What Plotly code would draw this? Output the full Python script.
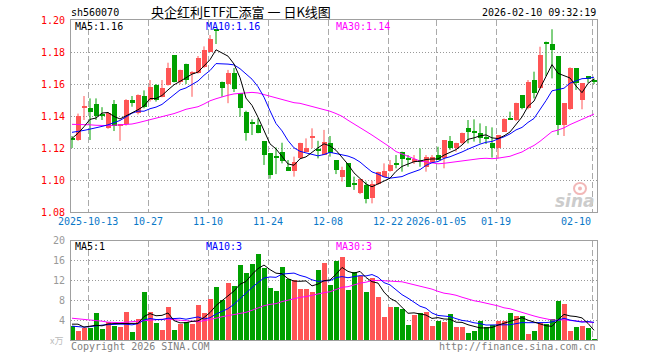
import plotly.graph_objects as go

# ---------------- data ----------------
opens = [1.1256, 1.1250, 1.1455, 1.1450, 1.1475, 1.1413, 1.1327, 1.1475, 1.1340, 1.1348,
         1.1500, 1.1417, 1.1525, 1.1500, 1.1594, 1.1520, 1.1594, 1.1780, 1.1615, 1.1727,
         1.1660, 1.1667, 1.1708, 1.1802, 1.1940, 1.1615, 1.1600, 1.1667, 1.1542, 1.1427,
         1.1352, 1.1344, 1.1244, 1.1167, 1.1140, 1.1177, 1.1083, 1.1058, 1.1135, 1.1177,
         1.1260, 1.1190, 1.1156, 1.1233, 1.1125, 1.1017, 1.1104, 1.0975, 1.0917, 1.0969,
         1.0885, 1.0975, 1.1021, 1.1056, 1.1096, 1.1177, 1.1127, 1.1115, 1.1117, 1.1083,
         1.1115, 1.1156, 1.1135, 1.1246, 1.1198, 1.1229, 1.1323, 1.1298, 1.1292, 1.1262,
         1.1229, 1.1198, 1.1302, 1.1383, 1.1375, 1.1531, 1.1448, 1.1625, 1.1573, 1.1863,
         1.1850, 1.1775, 1.1344, 1.1442, 1.1698, 1.1500, 1.1650, 1.1625]
highs = [1.1275, 1.1415, 1.1525, 1.1510, 1.1510, 1.1455, 1.1425, 1.1500, 1.1350, 1.1505,
         1.1525, 1.1535, 1.1560, 1.1625, 1.1600, 1.1625, 1.1733, 1.1780, 1.1690, 1.1727,
         1.1680, 1.1775, 1.1835, 1.1906, 1.1942, 1.1615, 1.1688, 1.1700, 1.1542, 1.1433,
         1.1379, 1.1385, 1.1244, 1.1167, 1.1204, 1.1233, 1.1125, 1.1146, 1.1233, 1.1260,
         1.1323, 1.1245, 1.1313, 1.1275, 1.1125, 1.1083, 1.1104, 1.1021, 1.1004, 1.0990,
         1.0996, 1.1052, 1.1104, 1.1125, 1.1156, 1.1177, 1.1156, 1.1156, 1.1198, 1.1156,
         1.1156, 1.1208, 1.1250, 1.1275, 1.1233, 1.1296, 1.1375, 1.1379, 1.1354, 1.1337,
         1.1329, 1.1281, 1.1385, 1.1427, 1.1483, 1.1531, 1.1625, 1.1677, 1.1833, 1.1865,
         1.1942, 1.1775, 1.1479, 1.1704, 1.1698, 1.1604, 1.1650, 1.1635]
lows = [1.1200, 1.1245, 1.1375, 1.1250, 1.1375, 1.1375, 1.1320, 1.1306, 1.1245, 1.1340,
        1.1458, 1.1410, 1.1448, 1.1490, 1.1490, 1.1517, 1.1590, 1.1610, 1.1600, 1.1600,
        1.1520, 1.1665, 1.1700, 1.1800, 1.1850, 1.1520, 1.1480, 1.1550, 1.1396, 1.1246,
        1.1281, 1.1292, 1.1094, 1.1008, 1.1037, 1.1104, 1.1056, 1.1021, 1.1131, 1.1177,
        1.1198, 1.1135, 1.1156, 1.1146, 1.1037, 1.0990, 1.0958, 1.0938, 1.0912, 1.0854,
        1.0854, 1.0969, 1.1021, 1.1052, 1.1073, 1.1052, 1.1083, 1.1100, 1.1083, 1.1052,
        1.1108, 1.1125, 1.1073, 1.1188, 1.1177, 1.1225, 1.1229, 1.1240, 1.1229, 1.1225,
        1.1140, 1.1135, 1.1302, 1.1375, 1.1369, 1.1442, 1.1442, 1.1510, 1.1567, 1.1650,
        1.1635, 1.1281, 1.1275, 1.1438, 1.1563, 1.1442, 1.1608, 1.1600]
closes = [1.1250, 1.1400, 1.1460, 1.1427, 1.1400, 1.1405, 1.1417, 1.1338, 1.1348, 1.1500,
          1.1480, 1.1530, 1.1454, 1.1583, 1.1500, 1.1575, 1.1702, 1.1615, 1.1690, 1.1625,
          1.1677, 1.1765, 1.1813, 1.1879, 1.1935, 1.1577, 1.1667, 1.1567, 1.1452, 1.1296,
          1.1350, 1.1296, 1.1156, 1.1031, 1.1138, 1.1119, 1.1058, 1.1115, 1.1233, 1.1198,
          1.1275, 1.1185, 1.1240, 1.1167, 1.1062, 1.1062, 1.0958, 1.0973, 1.1004, 1.0879,
          1.0975, 1.1052, 1.1056, 1.1094, 1.1094, 1.1129, 1.1125, 1.1129, 1.1115, 1.1142,
          1.1146, 1.1125, 1.1250, 1.1198, 1.1229, 1.1292, 1.1302, 1.1296, 1.1260, 1.1260,
          1.1198, 1.1281, 1.1381, 1.1381, 1.1479, 1.1448, 1.1615, 1.1542, 1.1781, 1.1854,
          1.1813, 1.1344, 1.1479, 1.1698, 1.1604, 1.1604, 1.1633, 1.1615]
volumes = [2.8, 1.8, 2.4, 2.5, 5.4, 2.2, 3.7, 2.8, 2.6, 5.6,
           1.6, 4.2, 9.7, 5.6, 3.4, 2.0, 6.6, 2.0, 3.3, 3.6,
           3.3, 7.1, 5.4, 8.3, 10.7, 8.1, 11.5, 10.9, 15.1, 13.5,
           15.3, 17.3, 14.5, 10.5, 9.9, 14.7, 12.3, 12.1, 10.3, 10.3,
           9.7, 14.1, 15.5, 11.1, 15.9, 16.7, 10.1, 13.7, 12.9, 9.7,
           12.5, 8.7, 4.6, 6.6, 6.6, 6.2, 3.0, 5.0, 5.4, 5.6,
           2.8, 3.8, 3.6, 5.2, 2.6, 2.6, 1.4, 1.8, 3.8, 2.6,
           3.0, 3.8, 3.8, 5.4, 4.8, 4.8, 1.2, 1.8, 3.4, 3.2,
           4.2, 7.9, 7.2, 1.8, 2.6, 2.8, 2.4, 0.2]

# moving-average values shown before the window is filled (history off-screen)
ma5_head = [1.1260, 1.1292, 1.1333, 1.1379]
ma10_head = [1.1298, 1.1302, 1.1310, 1.1318, 1.1325, 1.1335, 1.1345, 1.1358, 1.1372]
ma30_head = [1.1348, 1.1348, 1.1347, 1.1345, 1.1342, 1.1340, 1.1340, 1.1342, 1.1344, 1.1347,
             1.1350, 1.1358, 1.1367, 1.1375, 1.1385, 1.1393, 1.1402, 1.1415, 1.1428, 1.1442,
             1.1450, 1.1458, 1.1475, 1.1495, 1.1508, 1.1520, 1.1530, 1.1538, 1.1542]
vma5_head = [3.2, 3.2, 2.6, 2.8]
vma10_head = [2.8, 2.7, 2.6, 2.7, 2.9, 3.0, 3.1, 3.2, 3.2]
vma30_head = [4.4, 4.3, 4.2, 4.1, 4.0, 3.8, 3.6, 3.5, 3.5, 3.6,
              3.7, 3.9, 4.0, 4.1, 4.2, 4.2, 4.2, 4.1, 4.0, 3.8,
              3.7, 3.7, 3.9, 4.1, 4.4, 4.7, 4.9, 5.2, 5.4]

tick_idx = [3, 13, 23, 33, 43, 53, 61, 71, 87]
tick_labels = ["2025-10-13", "10-27", "11-10", "11-24", "12-08", "12-22", "2026-01-05", "01-19", "02-10"]
price_ticks = [1.08, 1.10, 1.12, 1.14, 1.16, 1.18, 1.20]
vol_ticks = [4, 8, 12, 16, 20]

title_code = "sh560070"
title_name = "央企红利ETF汇添富 一 日K线图"
time_stamp = "2026-02-10 09:32:19"
ma_price_labels = ["MA5:1.16", "MA10:1.16", "MA30:1.14"]
ma_vol_labels = ["MA5:1", "MA10:3", "MA30:3"]

# ---------------- helpers ----------------
def moving(values, n, head):
    out = list(head)
    for i in range(len(head), len(values)):
        out.append(sum(values[i - n + 1:i + 1]) / n)
    return out

W, H = 660, 360
PL, PR = 70.5, 597.0
P_TOP, P_BOT = 20.0, 212.0
V_TOP, V_BOT = 241.0, 340.0
X0, STEP = 72.0, 6.0
GRID_OFF = -0.28

RED, GREEN = "#ff5555", "#00a000"
MONO = "DejaVu Sans Mono"
MA_COLORS = ["#000000", "#0000ff", "#ff00ff"]

def fx(x):
    return x / W

def fy(y):
    return 1 - y / H

n = len(closes)
idx = list(range(n))
up = [closes[i] >= opens[i] for i in idx]
colors = [RED if u else GREEN for u in up]

fig = go.Figure()

# wicks
for flag, col in ((True, RED), (False, GREEN)):
    xs, ys = [], []
    for i in idx:
        if up[i] == flag:
            xs += [i, i, None]
            ys += [lows[i], highs[i], None]
    fig.add_trace(go.Scatter(x=xs, y=ys, mode="lines", line=dict(color=col, width=1),
                             hoverinfo="skip", showlegend=False, xaxis="x", yaxis="y"))

# bodies
min_h = 0.0007
bases = [min(opens[i], closes[i]) for i in idx]
heights = [max(abs(closes[i] - opens[i]), min_h) for i in idx]
fig.add_trace(go.Bar(x=idx, y=heights, base=bases, width=0.8,
                     marker=dict(color=colors, line=dict(width=0)),
                     showlegend=False, xaxis="x", yaxis="y"))

# price MAs
for vals, col in ((moving(closes, 30, ma30_head), MA_COLORS[2]),
                  (moving(closes, 10, ma10_head), MA_COLORS[1]),
                  (moving(closes, 5, ma5_head), MA_COLORS[0])):
    fig.add_trace(go.Scatter(x=idx, y=vals, mode="lines", line=dict(color=col, width=1),
                             showlegend=False, xaxis="x", yaxis="y"))

# volume bars
fig.add_trace(go.Bar(x=idx, y=volumes, width=0.8,
                     marker=dict(color=colors, line=dict(width=0)),
                     showlegend=False, xaxis="x2", yaxis="y2"))
for vals, col in ((moving(volumes, 30, vma30_head), MA_COLORS[2]),
                  (moving(volumes, 10, vma10_head), MA_COLORS[1]),
                  (moving(volumes, 5, vma5_head), MA_COLORS[0])):
    fig.add_trace(go.Scatter(x=idx, y=vals, mode="lines", line=dict(color=col, width=1),
                             showlegend=False, xaxis="x2", yaxis="y2"))

x_range = [(PL - X0) / STEP, (PR - X0) / STEP]
grid_x = [k + GRID_OFF for k in tick_idx]
AX_LINE = "#a0a0a0"
common_x = dict(domain=[fx(PL), fx(PR)], range=x_range, tickvals=grid_x, showticklabels=False,
                showgrid=True, gridcolor="#aaaaaa", gridwidth=1, griddash="6px,3px",
                zeroline=False, showline=True, linecolor=AX_LINE, linewidth=1, mirror=True, ticks="")
common_y = dict(showticklabels=False, showgrid=True, gridcolor="#999999", gridwidth=1,
                griddash="1px,2px", zeroline=False, showline=True, linecolor=AX_LINE,
                linewidth=1, mirror=True, ticks="")

ann = []

def txt(x, y, s, color, size=10, xanchor="left", family=MONO, xref="paper", yref="paper", **kw):
    d = dict(x=x, y=y, xref=xref, yref=yref, text=s, showarrow=False, xanchor=xanchor,
             yanchor="middle", borderpad=0,
             font=dict(family=family, size=size, color=color, **kw))
    return d

# header
ann.append(txt(fx(70), fy(13), title_code, "#000000"))
ann.append(txt(fx(150), fy(11), title_name, "#000000", size=13, family="Noto Sans CJK SC"))
ann.append(txt(fx(597), fy(13), time_stamp, "#000000", xanchor="right"))

# price labels
for v in price_ticks:
    ann.append(txt(fx(66), v, f"{v:.2f}", "#ff0000", xanchor="right", yref="y"))
# volume labels
for v in vol_ticks:
    ann.append(txt(fx(66), v, f"{v}", "#999999", xanchor="right", yref="y2"))
ann.append(txt(fx(64), fy(340), "x万", "#bbbbbb", size=9, xanchor="right", family="Noto Sans CJK SC"))

# date labels
for k, lab in zip(tick_idx, tick_labels):
    if k == tick_idx[-1]:
        ann.append(txt(fx(592), fy(221), lab, "#0a78c8", xanchor="right"))
    else:
        ann.append(txt(k + GRID_OFF, fy(221), lab, "#0a78c8", xanchor="center", xref="x"))

# MA labels
for xpos, lab, col in zip((74, 205, 335), ma_price_labels, MA_COLORS):
    ann.append(txt(fx(xpos), fy(26.5), lab, col))
for xpos, lab, col in zip((74, 205, 335), ma_vol_labels, MA_COLORS):
    ann.append(txt(fx(xpos), fy(246), lab, col))

# footer
ann.append(txt(fx(70), fy(346), "Copyright 2026 SINA.COM", "#808080"))
ann.append(txt(fx(597), fy(346), "http://finance.sina.com.cn", "#808080", xanchor="right"))

# watermark
ann.append(txt(fx(596), fy(201), "sina", "#cccccc", size=17, xanchor="right",
               family="DejaVu Sans", weight="bold", style="italic"))

shapes = [
    dict(type="circle", xref="paper", yref="paper", x0=fx(574), x1=fx(586), y0=fy(194), y1=fy(183),
         line=dict(color="#f2b8b8", width=2), fillcolor="rgba(0,0,0,0)"),
    dict(type="circle", xref="paper", yref="paper", x0=fx(578), x1=fx(582), y0=fy(190.5), y1=fy(186.5),
         line=dict(width=0), fillcolor="#f2b8b8"),
]

fig.update_layout(
    width=W, height=H, margin=dict(l=0, r=0, t=0, b=0),
    paper_bgcolor="white", plot_bgcolor="white", barmode="overlay", bargap=0,
    showlegend=False, hovermode=False,
    xaxis=dict(anchor="y", **common_x),
    yaxis=dict(anchor="x", domain=[fy(P_BOT), fy(P_TOP)], range=[1.08, 1.20],
               tickvals=price_ticks[1:-1], **common_y),
    xaxis2=dict(anchor="y2", **common_x),
    yaxis2=dict(anchor="x2", domain=[fy(V_BOT), fy(V_TOP)], range=[0, 20],
                tickvals=vol_ticks[:-1], **common_y),
    annotations=ann,
    shapes=shapes,
)

fig.write_html("out.html")
